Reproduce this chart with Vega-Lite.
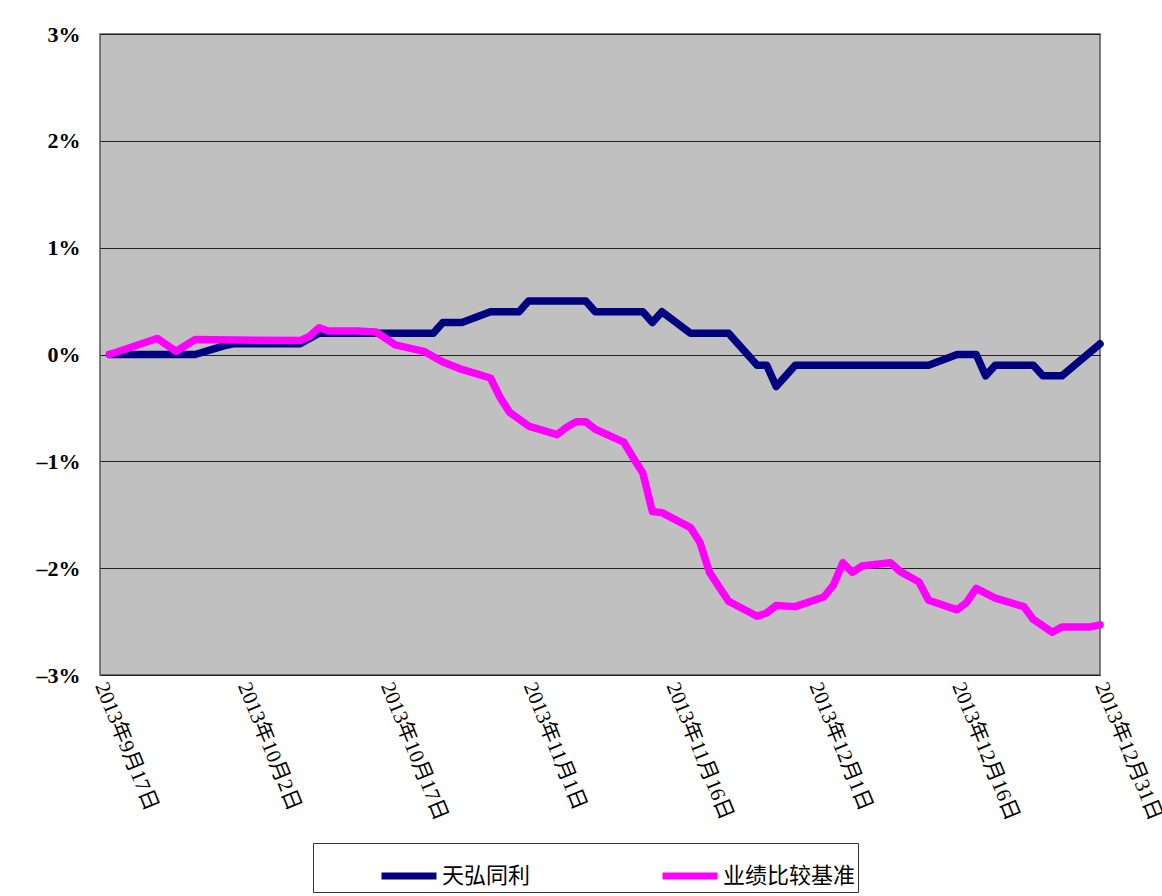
{
  "$schema": "https://vega.github.io/schema/vega-lite/v6.json",
  "autosize": {"type": "none"},
  "padding": {"left": 100, "top": 34, "right": 62, "bottom": 221},
  "width": 1000,
  "height": 641,
  "background": "#ffffff",
  "config": {
    "view": {"fill": "#C0C0C0", "stroke": "#555555", "strokeWidth": 1.5},
    "legend": {
      "orient": "none",
      "legendX": 213,
      "legendY": 809,
      "direction": "horizontal",
      "strokeColor": "#333333",
      "fillColor": "#ffffff",
      "padding": 2,
      "symbolType": "stroke",
      "symbolStrokeWidth": 7,
      "symbolSize": 3025,
      "symbolOffset": 63,
      "columnPadding": 65,
      "labelFontSize": 22,
      "labelFont": "Noto Sans CJK SC",
      "labelColor": "#000000",
      "labelOffset": 2,
      "labelLimit": 300
    }
  },
  "data": {
    "values": [
      {"date": "2013/09/18", "series": "天弘同利", "value": 0},
      {"date": "2013/09/27", "series": "天弘同利", "value": 0},
      {"date": "2013/09/30", "series": "天弘同利", "value": 0.08},
      {"date": "2013/10/01", "series": "天弘同利", "value": 0.1},
      {"date": "2013/10/08", "series": "天弘同利", "value": 0.1},
      {"date": "2013/10/10", "series": "天弘同利", "value": 0.2},
      {"date": "2013/10/22", "series": "天弘同利", "value": 0.2},
      {"date": "2013/10/23", "series": "天弘同利", "value": 0.3},
      {"date": "2013/10/25", "series": "天弘同利", "value": 0.3},
      {"date": "2013/10/28", "series": "天弘同利", "value": 0.4},
      {"date": "2013/10/31", "series": "天弘同利", "value": 0.4},
      {"date": "2013/11/01", "series": "天弘同利", "value": 0.5},
      {"date": "2013/11/07", "series": "天弘同利", "value": 0.5},
      {"date": "2013/11/08", "series": "天弘同利", "value": 0.4},
      {"date": "2013/11/13", "series": "天弘同利", "value": 0.4},
      {"date": "2013/11/14", "series": "天弘同利", "value": 0.3},
      {"date": "2013/11/15", "series": "天弘同利", "value": 0.4},
      {"date": "2013/11/18", "series": "天弘同利", "value": 0.2},
      {"date": "2013/11/22", "series": "天弘同利", "value": 0.2},
      {"date": "2013/11/25", "series": "天弘同利", "value": -0.1},
      {"date": "2013/11/26", "series": "天弘同利", "value": -0.1},
      {"date": "2013/11/27", "series": "天弘同利", "value": -0.3},
      {"date": "2013/11/29", "series": "天弘同利", "value": -0.1},
      {"date": "2013/12/13", "series": "天弘同利", "value": -0.1},
      {"date": "2013/12/16", "series": "天弘同利", "value": 0},
      {"date": "2013/12/18", "series": "天弘同利", "value": 0},
      {"date": "2013/12/19", "series": "天弘同利", "value": -0.2},
      {"date": "2013/12/20", "series": "天弘同利", "value": -0.1},
      {"date": "2013/12/24", "series": "天弘同利", "value": -0.1},
      {"date": "2013/12/25", "series": "天弘同利", "value": -0.2},
      {"date": "2013/12/27", "series": "天弘同利", "value": -0.2},
      {"date": "2013/12/31", "series": "天弘同利", "value": 0.1},
      {"date": "2013/09/18", "series": "业绩比较基准", "value": 0},
      {"date": "2013/09/23", "series": "业绩比较基准", "value": 0.15},
      {"date": "2013/09/25", "series": "业绩比较基准", "value": 0.03},
      {"date": "2013/09/27", "series": "业绩比较基准", "value": 0.14},
      {"date": "2013/10/08", "series": "业绩比较基准", "value": 0.13},
      {"date": "2013/10/09", "series": "业绩比较基准", "value": 0.17},
      {"date": "2013/10/10", "series": "业绩比较基准", "value": 0.25},
      {"date": "2013/10/11", "series": "业绩比较基准", "value": 0.22},
      {"date": "2013/10/14", "series": "业绩比较基准", "value": 0.22},
      {"date": "2013/10/16", "series": "业绩比较基准", "value": 0.21},
      {"date": "2013/10/18", "series": "业绩比较基准", "value": 0.09},
      {"date": "2013/10/21", "series": "业绩比较基准", "value": 0.03},
      {"date": "2013/10/23", "series": "业绩比较基准", "value": -0.07},
      {"date": "2013/10/25", "series": "业绩比较基准", "value": -0.14},
      {"date": "2013/10/28", "series": "业绩比较基准", "value": -0.22},
      {"date": "2013/10/29", "series": "业绩比较基准", "value": -0.4},
      {"date": "2013/10/30", "series": "业绩比较基准", "value": -0.54},
      {"date": "2013/11/01", "series": "业绩比较基准", "value": -0.67},
      {"date": "2013/11/04", "series": "业绩比较基准", "value": -0.75},
      {"date": "2013/11/05", "series": "业绩比较基准", "value": -0.68},
      {"date": "2013/11/06", "series": "业绩比较基准", "value": -0.63},
      {"date": "2013/11/07", "series": "业绩比较基准", "value": -0.63},
      {"date": "2013/11/08", "series": "业绩比较基准", "value": -0.7},
      {"date": "2013/11/11", "series": "业绩比较基准", "value": -0.82},
      {"date": "2013/11/12", "series": "业绩比较基准", "value": -0.97},
      {"date": "2013/11/13", "series": "业绩比较基准", "value": -1.11},
      {"date": "2013/11/14", "series": "业绩比较基准", "value": -1.47},
      {"date": "2013/11/15", "series": "业绩比较基准", "value": -1.48},
      {"date": "2013/11/18", "series": "业绩比较基准", "value": -1.62},
      {"date": "2013/11/19", "series": "业绩比较基准", "value": -1.76},
      {"date": "2013/11/20", "series": "业绩比较基准", "value": -2.04},
      {"date": "2013/11/22", "series": "业绩比较基准", "value": -2.31},
      {"date": "2013/11/25", "series": "业绩比较基准", "value": -2.45},
      {"date": "2013/11/26", "series": "业绩比较基准", "value": -2.42},
      {"date": "2013/11/27", "series": "业绩比较基准", "value": -2.35},
      {"date": "2013/11/29", "series": "业绩比较基准", "value": -2.36},
      {"date": "2013/12/02", "series": "业绩比较基准", "value": -2.27},
      {"date": "2013/12/03", "series": "业绩比较基准", "value": -2.16},
      {"date": "2013/12/04", "series": "业绩比较基准", "value": -1.95},
      {"date": "2013/12/05", "series": "业绩比较基准", "value": -2.04},
      {"date": "2013/12/06", "series": "业绩比较基准", "value": -1.98},
      {"date": "2013/12/09", "series": "业绩比较基准", "value": -1.95},
      {"date": "2013/12/10", "series": "业绩比较基准", "value": -2.03},
      {"date": "2013/12/12", "series": "业绩比较基准", "value": -2.13},
      {"date": "2013/12/13", "series": "业绩比较基准", "value": -2.3},
      {"date": "2013/12/16", "series": "业绩比较基准", "value": -2.39},
      {"date": "2013/12/17", "series": "业绩比较基准", "value": -2.32},
      {"date": "2013/12/18", "series": "业绩比较基准", "value": -2.19},
      {"date": "2013/12/20", "series": "业绩比较基准", "value": -2.28},
      {"date": "2013/12/23", "series": "业绩比较基准", "value": -2.36},
      {"date": "2013/12/24", "series": "业绩比较基准", "value": -2.48},
      {"date": "2013/12/26", "series": "业绩比较基准", "value": -2.6},
      {"date": "2013/12/27", "series": "业绩比较基准", "value": -2.55},
      {"date": "2013/12/30", "series": "业绩比较基准", "value": -2.55},
      {"date": "2013/12/31", "series": "业绩比较基准", "value": -2.53}
    ]
  },
  "encoding": {
    "x": {
      "field": "date",
      "type": "temporal",
      "scale": {"domain": [{"year": 2013, "month": 9, "date": 17}, {"year": 2013, "month": 12, "date": 31}]},
      "axis": {
        "title": null,
        "grid": false,
        "ticks": false,
        "domain": false,
        "values": [
          {"year": 2013, "month": 9, "date": 17},
          {"year": 2013, "month": 10, "date": 2},
          {"year": 2013, "month": 10, "date": 17},
          {"year": 2013, "month": 11, "date": 1},
          {"year": 2013, "month": 11, "date": 16},
          {"year": 2013, "month": 12, "date": 1},
          {"year": 2013, "month": 12, "date": 16},
          {"year": 2013, "month": 12, "date": 31}
        ],
        "labelExpr": "timeFormat(datum.value, '%Y年%-m月%-d日')",
        "labelAngle": 68,
        "labelAlign": "left",
        "labelBaseline": "middle",
        "labelPadding": 8,
        "labelFont": "Liberation Serif, Noto Sans CJK SC",
        "labelFontSize": 21,
        "labelColor": "#000000",
        "labelOverlap": false,
        "labelBound": false,
        "labelFlush": false
      }
    },
    "y": {
      "field": "value",
      "type": "quantitative",
      "scale": {"domain": [-3, 3], "nice": false},
      "axis": {
        "title": null,
        "values": [-3, -2, -1, 0, 1, 2, 3],
        "grid": true,
        "gridColor": "#222222",
        "gridWidth": 1.2,
        "ticks": false,
        "domain": false,
        "labelExpr": "(datum.value < 0 ? '–' : '') + abs(datum.value) + '%'",
        "labelFont": "Liberation Serif",
        "labelFontSize": 22,
        "labelFontWeight": "bold",
        "labelColor": "#000000",
        "labelPadding": 20
      }
    },
    "color": {
      "field": "series",
      "type": "nominal",
      "scale": {"domain": ["天弘同利", "业绩比较基准"], "range": ["#000080", "#FF00FF"]},
      "legend": {"title": null}
    }
  },
  "layer": [
    {
      "transform": [{"filter": "datum.series === '天弘同利'"}],
      "mark": {"type": "line", "strokeWidth": 7.5, "strokeJoin": "round", "strokeCap": "round"}
    },
    {
      "transform": [{"filter": "datum.series === '业绩比较基准'"}],
      "mark": {"type": "line", "strokeWidth": 7.5, "strokeJoin": "round", "strokeCap": "round"}
    }
  ]
}
